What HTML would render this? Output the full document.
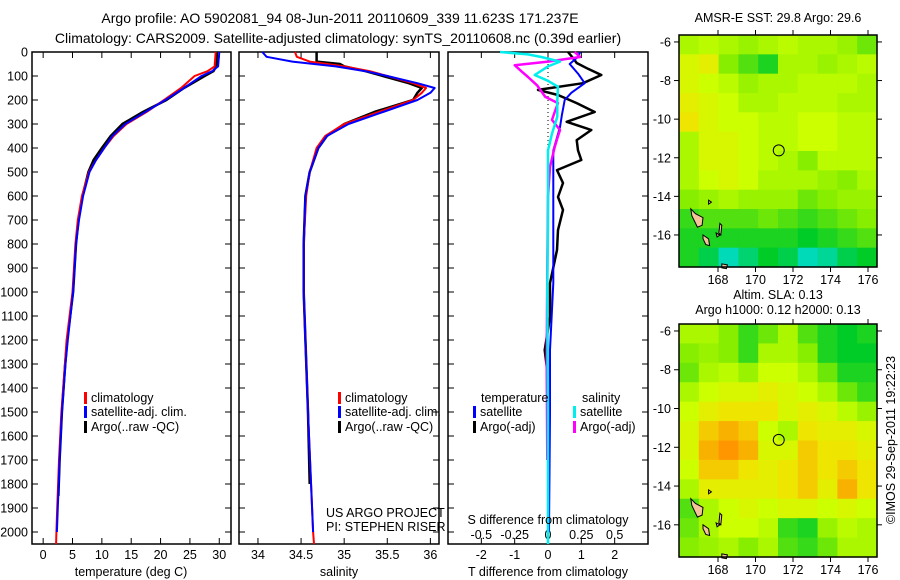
<!DOCTYPE html>
<html><head><meta charset="utf-8">
<style>
html,body{margin:0;padding:0;background:#fff;}
svg{display:block;font-family:"Liberation Sans",sans-serif;font-size:12.5px;}
.big{font-size:14px;}
</style></head>
<body>
<svg id="fig" width="900" height="580" viewBox="0 0 900 580">
<text class="big" x="340" y="23" text-anchor="middle">Argo profile: AO 5902081_94 08-Jun-2011 20110609_339 11.623S 171.237E</text>
<text class="big" x="338" y="43" text-anchor="middle">Climatology: CARS2009. Satellite-adjusted climatology: synTS_20110608.nc (0.39d earlier)</text>
<text x="778" y="22" text-anchor="middle">AMSR-E SST: 29.8 Argo: 29.6</text>
<text x="778" y="299" text-anchor="middle">Altim. SLA: 0.13</text>
<text x="778" y="314" text-anchor="middle">Argo h1000: 0.12 h2000: 0.13</text>
<text transform="translate(895,440) rotate(-90)" text-anchor="middle">©IMOS 29-Sep-2011 19:22:23</text>
<g id="plots"></g>
</svg>
<script>
// ---------- data ----------
const depthTicks = [0,100,200,300,400,500,600,700,800,900,1000,1100,1200,1300,1400,1500,1600,1700,1800,1900,2000];
const tempTicks = [0,5,10,15,20,25,30];
const salTicks = [34,34.5,35,35.5,36];
const tdiffTicks = [-2,-1,0,1,2];
const sdiffTicks = [-0.5,-0.25,0,0.25,0.5];
const lonTicks = [168,170,172,174,176];
const latTicks = [-6,-8,-10,-12,-14,-16];

const tempClimDepth = [0,60,80,100,150,200,250,300,350,400,450,500,600,700,800,1000,1200,1300,1500,1700,1900,2000,2050];
const tempClim = [29.4,29.2,28,25.8,23.5,20.6,17.6,14.2,12,10.4,9,7.8,6.6,5.9,5.5,5.0,4.0,3.7,3.1,2.7,2.4,2.25,2.2];
const tempSatDepth = [0,60,80,100,150,200,250,300,350,400,450,500,600,700,800,1000,1200,1300,1500,1700,1900,2000];
const tempSat = [30,29.8,28.8,27,24,20.8,17.4,14,11.8,10.4,9,7.9,6.8,6.1,5.6,5.1,4.2,3.8,3.2,2.8,2.5,2.35];
const tempArgoDepth = [0,60,80,100,150,200,250,300,350,400,450,500,600,700,800,1000,1200,1300,1500,1700,1850];
const tempArgo = [29.6,29.5,29,27.5,24,21,17,13.5,11.5,10,8.6,7.7,6.7,6,5.6,5.1,4.1,3.75,3.2,2.8,2.6];

const salClimDepth = [0,20,40,60,80,100,130,150,170,200,250,300,350,400,500,600,800,1000,1500,2000,2050];
const salClim = [34.43,34.45,34.6,35.0,35.3,35.5,35.8,35.95,35.9,35.8,35.4,35.0,34.78,34.68,34.6,34.56,34.53,34.53,34.58,34.64,34.65];
const salSatDepth = [0,20,40,60,80,100,130,150,170,200,250,300,350,400,500,600,800,1000,1500,2000];
const salSat = [34.05,34.1,34.4,34.9,35.25,35.5,35.85,36.05,36.0,35.85,35.45,35.05,34.8,34.7,34.6,34.55,34.53,34.53,34.58,34.64];
const salArgoDepth = [0,40,50,60,80,100,130,150,170,200,250,300,350,400,500,600,800,1000,1500,1800];
const salArgo = [34.68,34.68,34.95,35.0,35.25,35.45,35.75,35.9,35.85,35.8,35.35,35.0,34.8,34.7,34.6,34.55,34.53,34.53,34.58,34.6];

const tdSatDepth = [0,20,50,90,130,170,200,260,313,410,550,688,963,1242,1500,2000];
const tdSat = [0.96,0.9,0.65,0.9,1.1,0.7,0.5,0.42,0.36,0.16,0.16,0.16,0.16,0.06,0.06,0.03];
const tdArgoDepth = [0,25,46,70,96,130,158,179,213,250,291,325,367,410,450,492,546,604,658,742,825,963,1104,1242,1354,1500,1700,1850];
const tdArgo = [0.6,0.75,0.86,1.2,1.6,1.05,-0.3,0.3,0.86,1.4,0.56,1.3,0.86,0.9,1.0,0.27,0.45,0.3,0.45,0.3,0.27,0.06,0.06,-0.1,0,0.02,0.02,0.02];
const sdSatDepth = [0,10,21,40,60,96,120,145,200,270,340,410,688,1000,1500,2050];
const sdSat = [-0.36,-0.15,-0.05,0.09,0.0,-0.1,0.0,0.075,0.07,0.07,0.03,0.0,0.0,-0.005,0,0];
const sdArgoDepth = [0,21,40,55,80,104,140,187,213,250,283,325,360,396,479,600,900,1300,1700];
const sdArgo = [0.2,0.24,0.0,-0.25,-0.2,-0.15,-0.08,-0.02,0.075,0.05,0.03,0.09,0.07,0.05,0.015,0,-0.005,-0.01,-0.005];

const sstGrid = [
[0.6,0.65,0.6,0.55,0.6,0.65,0.6,0.6,0.55,0.45],
[0.75,0.8,0.5,0.4,0.3,0.6,0.6,0.55,0.6,0.65],
[0.75,0.7,0.65,0.55,0.6,0.6,0.65,0.65,0.65,0.6],
[0.8,0.75,0.7,0.6,0.6,0.65,0.65,0.65,0.6,0.6],
[0.85,0.75,0.7,0.7,0.65,0.65,0.7,0.7,0.65,0.65],
[0.6,0.75,0.75,0.7,0.65,0.65,0.7,0.7,0.65,0.65],
[0.6,0.75,0.75,0.7,0.65,0.6,0.5,0.65,0.65,0.65],
[0.6,0.7,0.75,0.7,0.6,0.6,0.6,0.55,0.5,0.6],
[0.5,0.55,0.6,0.55,0.55,0.55,0.45,0.5,0.55,0.55],
[0.35,0.4,0.4,0.4,0.45,0.4,0.35,0.4,0.45,0.5],
[0.3,0.3,0.3,0.3,0.3,0.3,0.25,0.3,0.35,0.4],
[0.3,0.2,0.05,0.15,0.25,0.2,0.05,0.1,0.2,0.25]];
const slaGrid = [
[0.6,0.6,0.5,0.35,0.45,0.6,0.4,0.3,0.25,0.3],
[0.5,0.55,0.5,0.35,0.6,0.6,0.5,0.3,0.25,0.25],
[0.45,0.6,0.65,0.55,0.7,0.7,0.6,0.45,0.3,0.3],
[0.6,0.7,0.75,0.75,0.8,0.75,0.7,0.6,0.45,0.35],
[0.7,0.8,0.85,0.85,0.85,0.75,0.8,0.75,0.65,0.55],
[0.75,0.9,0.95,0.9,0.7,0.6,0.85,0.8,0.8,0.75],
[0.75,0.95,1.0,0.95,0.75,0.75,0.9,0.85,0.85,0.8],
[0.7,0.9,0.9,0.85,0.8,0.85,0.9,0.85,0.9,0.85],
[0.6,0.8,0.8,0.8,0.8,0.85,0.9,0.8,0.95,0.85],
[0.4,0.6,0.7,0.75,0.7,0.75,0.75,0.7,0.75,0.7],
[0.45,0.6,0.7,0.7,0.65,0.35,0.3,0.55,0.65,0.6],
[0.5,0.55,0.6,0.5,0.6,0.4,0.35,0.45,0.6,0.6]];
const argoLon = 171.24, argoLat = -11.62;

// ---------- helpers ----------
const NS='http://www.w3.org/2000/svg';
const root=document.getElementById('plots');
function mk(tag,attrs,parent){const e=document.createElementNS(NS,tag);for(const k in attrs)e.setAttribute(k,attrs[k]);(parent||root).appendChild(e);return e;}
const Y0=52,Y1=544,D0=0,D1=2050;
const yD=d=>Y0+(d-D0)/(D1-D0)*(Y1-Y0);

function panel(name,x0,x1,v0,v1){
  const g=mk('g',{});
  
  
  const sx=v=>x0+(v-v0)/(v1-v0)*(x1-x0);
  return {g,sx,x0,x1};
}
function frame(p,xt,yLabels,xtY){
  const r=mk('rect',{x:p.x0,y:Y0,width:p.x1-p.x0,height:Y1-Y0,fill:'none',stroke:'#000','stroke-width':1.5},p.g);
  
  
  depthTicks.forEach(d=>{const y=yD(d);
    mk('line',{x1:p.x0,x2:p.x0+6,y1:y,y2:y,stroke:'#000'},p.g);
    mk('line',{x1:p.x1,x2:p.x1-6,y1:y,y2:y,stroke:'#000'},p.g);
    if(yLabels){const t=mk('text',{x:p.x0-4,y:y+4.5,'text-anchor':'end'},p.g);t.textContent=d;
      
      }
  });
  xt.forEach(v=>{const x=p.sx(v);
    mk('line',{x1:x,x2:x,y1:Y1,y2:Y1-6,stroke:'#000'},p.g);
    mk('line',{x1:x,x2:x,y1:Y0,y2:Y0+6,stroke:'#000'},p.g);
    const t=mk('text',{x:x,y:xtY,'text-anchor':'middle'},p.g);t.textContent=v;
    
    
  });
}
function line(p,depths,vals,color,w,name,scale){
  const pts=depths.map((d,i)=>p.sx(vals[i]*(scale||1)).toFixed(1)+','+yD(d).toFixed(1)).join(' ');
  const l=mk('polyline',{points:pts,fill:'none',stroke:color,'stroke-width':w,'stroke-linejoin':'round'},p.g);
  
  
}
function txt(g,x,y,s,name,anchor){const t=mk('text',{x:x,y:y,'text-anchor':anchor||'start'},g);t.textContent=s;
  
  return t;}
function legend(g,x,y,color,label,name){
  const m=mk('rect',{x:x,y:y-10,width:3,height:12,fill:color},g);
  
  
  txt(g,x+7,y,label,name);
}

// ---------- temperature panel ----------
const pT=panel('temperature-panel',32,231,-1.9,32);
frame(pT,tempTicks,true,559);
line(pT,tempArgoDepth,tempArgo,'#000',2.5,'temp-argo-line');
line(pT,tempClimDepth,tempClim,'#f00',2,'temp-clim-line');
line(pT,tempSatDepth,tempSat,'#00f',2,'temp-sat-line');
txt(pT.g,131,576,'temperature (deg C)','temp-x-axis-title','middle');
legend(pT.g,84,402,'#f00','climatology','legend-climatology');
legend(pT.g,84,416,'#00f','satellite-adj. clim.','legend-satellite-adj');
legend(pT.g,84,431,'#000','Argo(..raw -QC)','legend-argo');

// ---------- salinity panel ----------
const pS=panel('salinity-panel',239,439,33.78,36.1);
frame(pS,salTicks,false,559);
line(pS,salArgoDepth,salArgo,'#000',2.5,'sal-argo-line');
line(pS,salClimDepth,salClim,'#f00',2,'sal-clim-line');
line(pS,salSatDepth,salSat,'#00f',2,'sal-sat-line');
txt(pS.g,339,576,'salinity','sal-x-axis-title','middle');
legend(pS.g,338,402,'#f00','climatology','legend-climatology');
legend(pS.g,338,416,'#00f','satellite-adj. clim.','legend-satellite-adj');
legend(pS.g,338,431,'#000','Argo(..raw -QC)','legend-argo');
txt(pS.g,326,517,'US ARGO PROJECT','project-label');
txt(pS.g,326,531,'PI: STEPHEN RISER','pi-label');

// ---------- difference panel ----------
const pD=panel('difference-panel',448,648,-3,3);
frame(pD,tdiffTicks,false,559);
sdiffTicks.forEach(v=>{txt(pD.g,pD.sx(v*4),539,v,'s-diff-tick-label','middle');});
const dz=mk('line',{x1:pD.sx(0),x2:pD.sx(0),y1:Y0,y2:yD(420),stroke:'#000','stroke-dasharray':'1,3'},pD.g);


line(pD,tdArgoDepth,tdArgo,'#000',2.5,'tdiff-argo-line');
line(pD,tdSatDepth,tdSat,'#00f',2,'tdiff-sat-line');
line(pD,sdArgoDepth,sdArgo,'#f0f',2.5,'sdiff-argo-line',4);
line(pD,sdSatDepth,sdSat,'#0ee',2.5,'sdiff-sat-line',4);
txt(pD.g,548,576,'T difference from climatology','tdiff-x-axis-title','middle');
txt(pD.g,548,524,'S difference from climatology','sdiff-axis-title','middle');
txt(pD.g,481,402,'temperature','legend-temperature-head');
txt(pD.g,582,402,'salinity','legend-salinity-head');
legend(pD.g,473,416,'#00f','satellite','legend-t-satellite');
legend(pD.g,473,431,'#000','Argo(-adj)','legend-t-argo');
legend(pD.g,573,416,'#0ee','satellite','legend-s-satellite');
legend(pD.g,573,431,'#f0f','Argo(-adj)','legend-s-argo');

// ---------- maps ----------
const stops=[[0,[0,221,221]],[0.25,[0,204,40]],[0.5,[136,238,0]],[0.7,[204,255,0]],[0.85,[238,230,0]],[1,[255,150,0]]];
function cmap(v){for(let i=1;i<stops.length;i++){if(v<=stops[i][0]){const a=stops[i-1],b=stops[i],t=(v-a[0])/(b[0]-a[0]);
  return 'rgb('+a[1].map((c,k)=>Math.round(c+(b[1][k]-c)*t)).join(',')+')';}}return 'rgb(255,150,0)';}
const LON0=165.92,LON1=176.48,LAT0=-5.64,LAT1=-17.66;
const land=[
 [[166.55,-14.65],[166.8,-14.9],[167.2,-15.1],[167.15,-15.5],[166.9,-15.6],[166.75,-15.3],[166.6,-15.0]],
 [[167.2,-16.0],[167.5,-16.2],[167.55,-16.55],[167.35,-16.5],[167.2,-16.2]],
 [[168.1,-15.4],[168.2,-15.5],[168.15,-16.0],[168.05,-15.9]],
 [[168.2,-17.5],[168.5,-17.55],[168.45,-17.75],[168.2,-17.7]],
 [[167.9,-15.9],[168.1,-16.0],[167.95,-16.1]],
 [[167.5,-14.2],[167.65,-14.3],[167.5,-14.4]]
];
function map(name,grid,x0,y0,x1,y1){
  const g=mk('g',{});
  
  
  const lx=v=>x0+(v-LON0)/(LON1-LON0)*(x1-x0);
  const ly=v=>y0+(v-LAT0)/(LAT1-LAT0)*(y1-y0);
  const rows=grid.length,cols=grid[0].length;
  const cw=(x1-x0)/cols,ch=(y1-y0)/rows;
  grid.forEach((row,r)=>row.forEach((v,c)=>{
    const cell=mk('rect',{x:(x0+c*cw).toFixed(2),y:(y0+r*ch).toFixed(2),width:(cw+0.6).toFixed(2),height:(ch+0.6).toFixed(2),fill:cmap(v)},g);
    
    
  }));
  land.forEach(poly=>{const p=mk('polygon',{points:poly.map(q=>lx(q[0]).toFixed(1)+','+ly(q[1]).toFixed(1)).join(' '),fill:'#f5c39a',stroke:'#000','stroke-width':1},g);
    
    });
  const b=mk('rect',{x:x0,y:y0,width:x1-x0,height:y1-y0,fill:'none',stroke:'#000','stroke-width':1.5},g);
  
  
  lonTicks.forEach(v=>{const x=lx(v);mk('line',{x1:x,x2:x,y1:y1,y2:y1+5,stroke:'#000'},g);mk('line',{x1:x,x2:x,y1:y0,y2:y0-5,stroke:'#000'},g);
    txt(g,x,y1+17,v,'lon-tick-label','middle');});
  latTicks.forEach(v=>{const y=ly(v);mk('line',{x1:x0,x2:x0-5,y1:y,y2:y,stroke:'#000'},g);mk('line',{x1:x1,x2:x1+5,y1:y,y2:y,stroke:'#000'},g);
    txt(g,x0-8,y+4.5,v,'lat-tick-label','end');});
  const c=mk('circle',{cx:lx(argoLon),cy:ly(argoLat),r:5.5,fill:'none',stroke:'#000','stroke-width':1},g);
  
  
}
map('sst-map',sstGrid,679,35,877,267);
map('sla-map',slaGrid,679,324,877,557);
</script>
</body></html>
